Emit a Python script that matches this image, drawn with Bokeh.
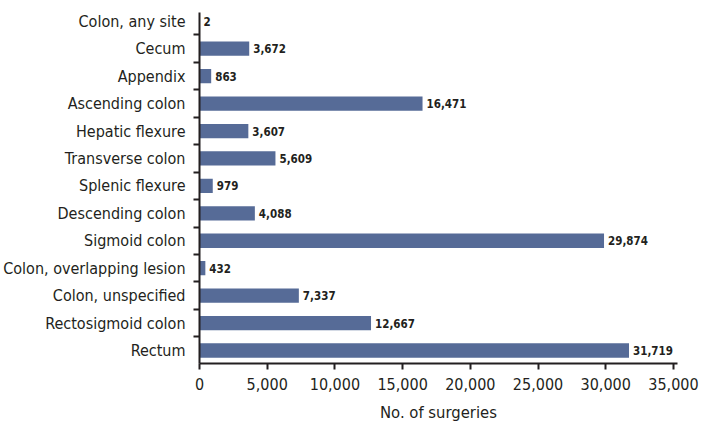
from bokeh.plotting import figure
from bokeh.models import ColumnDataSource, FixedTicker, NumeralTickFormatter, Range1d
from bokeh.core.properties import value
from bokeh.embed import file_html
from bokeh.resources import INLINE

categories = ["Colon, any site", "Cecum", "Appendix", "Ascending colon", "Hepatic flexure",
              "Transverse colon", "Splenic flexure", "Descending colon", "Sigmoid colon",
              "Colon, overlapping lesion", "Colon, unspecified", "Rectosigmoid colon", "Rectum"]
counts = [2, 3672, 863, 16471, 3607, 5609, 979, 4088, 29874, 432, 7337, 12667, 31719]
x_ticks = [0, 5000, 10000, 15000, 20000, 25000, 30000, 35000]

n = len(categories)
ypos = [n - 1 - i for i in range(n)]
labels = [f"{c:,}" for c in counts]
src = ColumnDataSource(dict(y=ypos, v=counts, lab=labels))

FONT = "'DejaVu Sans Condensed', 'Roboto', sans-serif"
TXT = "#231f20"

p = figure(width=705, height=425, output_backend="svg", toolbar_location=None,
           x_range=Range1d(0, 35300), y_range=Range1d(-0.474, n - 1 + 0.32),
           min_border_left=198, min_border_right=28, min_border_top=12, min_border_bottom=62)
p.outline_line_color = None
p.grid.grid_line_color = None
p.background_fill_color = "white"
p.border_fill_color = "white"

p.hbar(y="y", right="v", left=0, height=0.52, source=src, fill_color="#566b97", line_color=None)
p.text(x="v", y="y", text="lab", source=src, x_offset=4, text_baseline="middle", text_align="left",
       text_font=value(FONT), text_font_size="11.5px", text_font_style="bold", text_color=TXT)

# y axis
yax = p.yaxis[0]
yax.ticker = FixedTicker(ticks=ypos, minor_ticks=[y + 0.5 for y in range(-1, n - 1)])
yax.major_label_overrides = {y: categories[n - 1 - y] for y in ypos}
yax.major_tick_out = 0
yax.major_tick_in = 0
yax.minor_tick_out = 6
yax.minor_tick_in = 0
yax.minor_tick_line_color = TXT
yax.minor_tick_line_width = 2
yax.axis_line_color = TXT
yax.axis_line_width = 2
yax.major_label_text_font = FONT
yax.major_label_text_font_size = "16px"
yax.major_label_text_color = TXT
yax.major_label_standoff = 8

# x axis
xax = p.xaxis[0]
xax.ticker = FixedTicker(ticks=x_ticks)
xax.formatter = NumeralTickFormatter(format="0,0")
xax.minor_tick_line_color = None
xax.major_tick_out = 6
xax.major_tick_in = 0
xax.major_tick_line_color = TXT
xax.major_tick_line_width = 2
xax.axis_line_color = TXT
xax.axis_line_width = 2
xax.major_label_text_font = FONT
xax.major_label_text_font_size = "16px"
xax.major_label_text_color = TXT
xax.major_label_standoff = 8
xax.axis_label = "No. of surgeries"
xax.axis_label_text_font = FONT
xax.axis_label_text_font_size = "16.5px"
xax.axis_label_text_font_style = "normal"
xax.axis_label_text_color = TXT
xax.axis_label_standoff = 10

open("out.html", "w").write(file_html(p, INLINE))
